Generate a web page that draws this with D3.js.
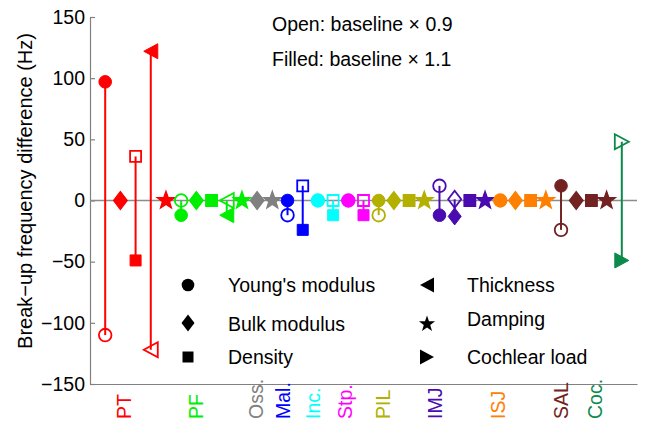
<!DOCTYPE html>
<html>
<head>
<meta charset="utf-8">
<script src="https://cdn.jsdelivr.net/npm/d3@7"></script>
<style>
    body { margin: 0; background: #fff; }
    text { font-family: "Liberation Sans", Arial, sans-serif; }
</style>
</head>
<body>
<div class="chart-container"></div>
<script>
// Groups (bottom labels), their colours and where the label sits (in item units)
const groupNames = ['PT', 'PF', 'Oss.', 'Mal.', 'Inc.', 'Stp.', 'PIL', 'IMJ', 'ISJ', 'SAL', 'Coc.'];
const groupColors = ['#ff0000', '#00ee00', '#808080', '#0000ff', '#00ffff', '#ff00ff',
    '#b3b000', '#4a0bb0', '#ff8000', '#732222', '#0b8a4b'];
const labelPos = [1.68, 6.44, 10.39, 12.17, 14.14, 16.25, 18.75, 22.15, 26.32, 30.47, 32.71];

// One entry per parameter that was varied
const itemGroup = [0, 0, 0, 0, 0, 1, 1, 1, 1, 1, 2, 2, 3, 3, 4, 4, 5, 5,
    6, 6, 6, 6, 7, 7, 7, 7, 8, 8, 8, 8, 9, 9, 9, 9, 10];
const itemShape = ['circle', 'diamond', 'square', 'triLeft', 'star',
    'circle', 'diamond', 'square', 'triLeft', 'star',
    'diamond', 'star',
    'circle', 'square',
    'circle', 'square',
    'circle', 'square',
    'circle', 'diamond', 'square', 'star',
    'circle', 'diamond', 'square', 'star',
    'circle', 'diamond', 'square', 'star',
    'circle', 'diamond', 'square', 'star',
    'triRight'];
// baseline x 0.9 (open) and x 1.1 (filled), Hz
const openValues = [-110, 0, 36, -122, 0, 0, 0, 0, 0, 0, 0, 0, -12, 12, 0, 0, 0, 0,
    -12, 0, 0, 0, 12, 1, 0, 0, 0, 0, 0, 0, -24, 0, 0, 0, 48];
const filledValues = [97, 0, -49, 122, 0, -12, 0, 0, -12, 0, 0, 0, 0, -24, 0, -12, 0, -12,
    0, 0, 0, 0, -12, -13, 0, 0, 0, 0, 0, 0, 12, 0, 0, 0, -49];

const yTicks = [-150, -100, -50, 0, 50, 100, 150];

const legendShapes = ['circle', 'diamond', 'square', 'triLeft', 'star', 'triRight'];
const legendNames = ["Young's modulus", 'Bulk modulus', 'Density', 'Thickness', 'Damping', 'Cochlear load'];

const width = 646, height = 430;
const margin = { top: 17, right: 9, bottom: 46, left: 90 };

const svg = d3.select('.chart-container')
    .append('svg')
    .attr('width', width)
    .attr('height', height);

const x = d3.scaleLinear()
    .domain([-1, itemGroup.length])
    .range([margin.left, width - margin.right]);
const y = d3.scaleLinear()
    .domain([-150, 150])
    .range([height - margin.bottom, margin.top]);

// Marker paths, centred on 0,0
function shapePath(shape) {
    const p = d3.path();
    if (shape === 'circle') {
        p.arc(0, 0, 6.3, 0, 2 * Math.PI);
    } else if (shape === 'square') {
        p.rect(-5.5, -5.5, 11, 11);
    } else if (shape === 'diamond') {
        p.moveTo(0, -8.5); p.lineTo(6.5, 0); p.lineTo(0, 8.5); p.lineTo(-6.5, 0);
    } else if (shape === 'triLeft') {
        p.moveTo(-7, 0); p.lineTo(7, -7.5); p.lineTo(7, 7.5);
    } else if (shape === 'triRight') {
        p.moveTo(7, 0); p.lineTo(-7, -7.5); p.lineTo(-7, 7.5);
    } else if (shape === 'star') {
        const R = 8.5, r = 3.4;
        for (let i = 0; i < 10; i++) {
            const a = -Math.PI / 2 + i * Math.PI / 5;
            const rr = i % 2 === 0 ? R : r;
            if (i === 0) p.moveTo(rr * Math.cos(a), rr * Math.sin(a));
            else p.lineTo(rr * Math.cos(a), rr * Math.sin(a));
        }
    }
    p.closePath();
    return p.toString();
}

// Axes
svg.append('g')
    .attr('transform', `translate(${margin.left},0)`)
    .call(d3.axisLeft(y).tickValues(yTicks).tickSizeInner(-5).tickSizeOuter(0).tickPadding(5))
    .call(g => g.selectAll('path, line').attr('stroke', '#808080').attr('stroke-width', 1.2))
    .call(g => g.selectAll('text').attr('fill', '#000').style('font-size', '19.5px')
        .style('font-family', '"Liberation Sans", Arial, sans-serif'));

svg.append('g')
    .attr('transform', `translate(0,${height - margin.bottom})`)
    .call(d3.axisBottom(x).tickValues([]).tickSizeOuter(0))
    .call(g => g.select('path').attr('stroke', '#808080').attr('stroke-width', 1.2));

// Zero line
svg.append('line')
    .attr('x1', margin.left).attr('x2', width - margin.right)
    .attr('y1', y(0)).attr('y2', y(0))
    .attr('stroke', '#8c8c8c')
    .attr('stroke-width', 1.5);

// Y label
svg.append('text')
    .attr('transform', `translate(32,191) rotate(-90)`)
    .attr('text-anchor', 'middle')
    .style('font-size', '20px')
    .text('Break\u2212up frequency difference (Hz)');

const items = itemGroup.map((g, i) => ({
    i, shape: itemShape[i], color: groupColors[g], open: openValues[i], filled: filledValues[i]
}));

// Stems between the two cases
svg.append('g')
    .selectAll('line')
    .data(items)
    .enter()
    .append('line')
    .attr('x1', d => x(d.i)).attr('x2', d => x(d.i))
    .attr('y1', d => y(d.open)).attr('y2', d => y(d.filled))
    .attr('stroke', d => d.color)
    .attr('stroke-width', 2);

// Open markers
svg.append('g')
    .selectAll('path')
    .data(items)
    .enter()
    .append('path')
    .attr('transform', d => `translate(${x(d.i)},${y(d.open)})`)
    .attr('d', d => shapePath(d.shape))
    .attr('fill', 'none')
    .attr('stroke', d => d.color)
    .attr('stroke-width', 1.8);

// Filled markers
svg.append('g')
    .selectAll('path')
    .data(items)
    .enter()
    .append('path')
    .attr('transform', d => `translate(${x(d.i)},${y(d.filled)})`)
    .attr('d', d => shapePath(d.shape))
    .attr('fill', d => d.color)
    .attr('stroke', d => d.color)
    .attr('stroke-width', 1);

// Group labels below the axis
svg.append('g')
    .selectAll('text')
    .data(groupNames)
    .enter()
    .append('text')
    .attr('transform', (d, i) => `translate(${x(labelPos[i])},419) rotate(-90)`)
    .attr('fill', (d, i) => groupColors[i])
    .style('font-size', '19.5px')
    .text(d => d);

// Notes
svg.append('text').attr('x', 272).attr('y', 30.5).style('font-size', '19.5px')
    .text('Open: baseline \u00d7 0.9');
svg.append('text').attr('x', 272).attr('y', 65.5).style('font-size', '19.5px')
    .text('Filled: baseline \u00d7 1.1');

// Legend
const legendX = [188, 188, 188, 427, 427, 427];
const legendY = [285, 323, 357, 285, 324, 357];
const legendTextY = [285, 324, 357, 285, 319, 357];
const legend = svg.append('g');
legend.selectAll('path')
    .data(legendShapes)
    .enter()
    .append('path')
    .attr('transform', (d, i) => `translate(${legendX[i]},${legendY[i]})`)
    .attr('d', d => shapePath(d))
    .attr('fill', '#000');
legend.selectAll('text')
    .data(legendNames)
    .enter()
    .append('text')
    .attr('x', (d, i) => legendX[i] + 40)
    .attr('y', (d, i) => legendTextY[i])
    .attr('dy', '0.35em')
    .style('font-size', '19.5px')
    .text(d => d);
</script>
</body>
</html>
